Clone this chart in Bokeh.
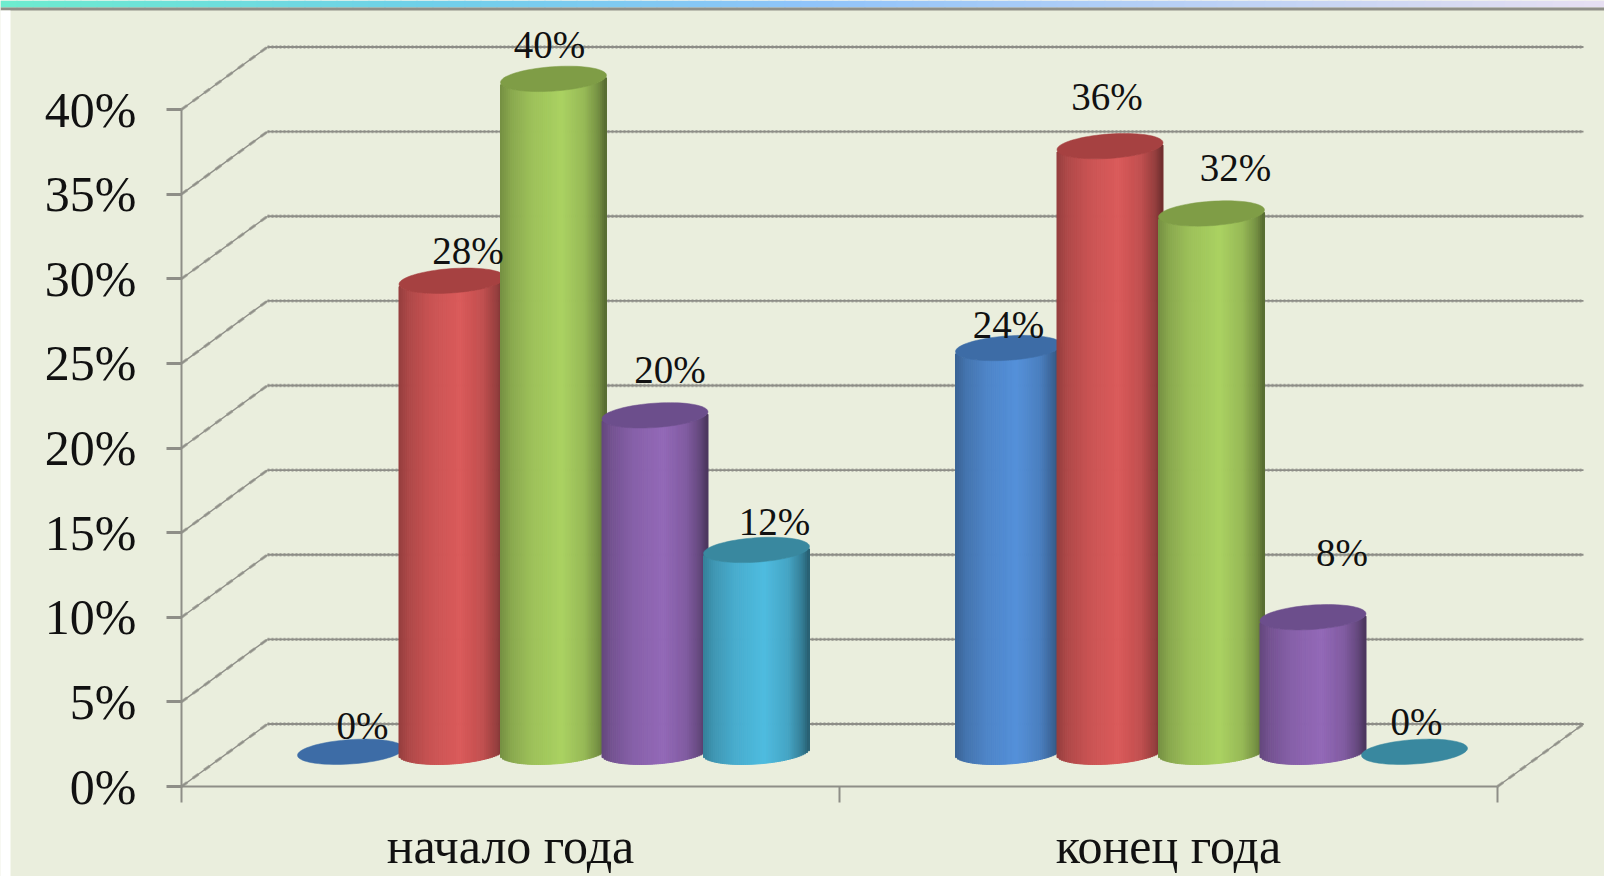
import numpy as np
from bokeh.core.properties import value
from bokeh.embed import file_html
from bokeh.models import BoxAnnotation, ColumnDataSource, FixedTicker
from bokeh.plotting import figure
from bokeh.resources import INLINE

# ---- data ----
categories = ["начало года", "конец года"]
series_blue = [0, 24]
series_red = [28, 36]
series_green = [40, 32]
series_purple = [20, 8]
series_teal = [12, 0]
y_ticks = [0, 5, 10, 15, 20, 25, 30, 35, 40]
# hand-placed data labels in the original: nudge from the bar centre top, in pixels
nudge_x = [[12, 16, -4, 15, 18], [0, -3, 24, 29, 2]]
nudge_y = [[29, 30, 33, 46, 29], [23, 48, 45, 66, 33]]

# ---- style ----
BG = "#EAEEDD"
GRID = "#8E8E87"
FONT = "Liberation Serif"
body_colors = ["#5591DA", "#DB5B5B", "#ABD262", "#9369B8", "#4FBCE0"]
top_colors = ["#3D6CA6", "#A64141", "#7F9D46", "#6C4E8C", "#39889F"]

W, H = 1604, 876
X0, Y0 = 181, 786   # where the axes cross on the page
PX_CAT = 658.0      # pixels per category
PX_PCT = 16.925     # pixels per percent
depth_x = 86 / PX_CAT
depth_y = 62.5 / PX_PCT
bar_step = 101.5 / PX_CAT
radius = 53 / PX_CAT
ell_h = 12.2 / PX_PCT
tilt = 3.5 / PX_PCT
lift = 2.05
bar_scale = 0.994

p = figure(width=W, height=H, output_backend="svg", toolbar_location=None,
           x_range=(-X0 / PX_CAT, (W - X0) / PX_CAT), y_range=((Y0 - H) / PX_PCT, Y0 / PX_PCT),
           min_border_left=0, min_border_right=0, min_border_top=0, min_border_bottom=0,
           background_fill_color=BG, border_fill_color=BG, outline_line_color=None)
p.grid.visible = False

# ---- axes ----
ya = p.yaxis[0]
ya.fixed_location = 0
ya.ticker = FixedTicker(ticks=y_ticks)
ya.major_label_overrides = {t: f"{t}%" for t in y_ticks}
ya.bounds = (0, 40)
ya.axis_line_color = GRID
ya.axis_line_width = 2
ya.major_tick_line_color = GRID
ya.major_tick_line_width = 3
ya.major_tick_out = 15
ya.major_tick_in = 0
ya.minor_tick_line_color = None
ya.major_label_standoff = 30
ya.major_label_text_font = FONT
ya.major_label_text_font_size = "50px"
ya.major_label_text_color = "#111111"

xa = p.xaxis[0]
xa.fixed_location = 0
cat_pos = [i + 0.5 for i in range(len(categories))]
xa.ticker = FixedTicker(ticks=cat_pos, minor_ticks=[0, 1, 2])
xa.major_label_overrides = {c: n for c, n in zip(cat_pos, categories)}
xa.bounds = (0, 2)
xa.axis_line_color = GRID
xa.axis_line_width = 2
xa.major_tick_line_color = None
xa.minor_tick_line_color = GRID
xa.minor_tick_line_width = 2
xa.minor_tick_out = 16
xa.minor_tick_in = 0
xa.major_label_standoff = 15
xa.major_label_text_font = FONT
xa.major_label_text_font_size = "50px"
xa.major_label_text_color = "#111111"

# ---- 3D walls ----
ty = np.array(y_ticks, dtype=float)
gx0, gx1 = np.full(len(ty), depth_x), np.full(len(ty), 2 + depth_x)
p.segment(x0=gx0, x1=gx1, y0=ty + depth_y, y1=ty + depth_y, line_color=GRID, line_width=1.8)
p.segment(x0=gx0, x1=gx1, y0=ty + depth_y, y1=ty + depth_y, line_color=GRID, line_width=3.4,
          line_alpha=0.65, line_dash="2 2")
p.segment(x0=np.zeros(len(ty)), x1=np.full(len(ty), depth_x), y0=ty, y1=ty + depth_y,
          line_color=GRID, line_width=1.4)
p.segment(x0=np.zeros(len(ty)), x1=np.full(len(ty), depth_x), y0=ty, y1=ty + depth_y,
          line_color=GRID, line_width=3, line_alpha=0.7, line_dash="7 7")
p.segment(x0=[2], x1=[2 + depth_x], y0=[0], y1=[depth_y], line_color=GRID, line_width=1.4)
p.segment(x0=[2], x1=[2 + depth_x], y0=[0], y1=[depth_y], line_color=GRID, line_width=3,
          line_alpha=0.7, line_dash="7 7")


def shade(hex_color, t):
    rgb = np.array([int(hex_color[i:i + 2], 16) for i in (1, 3, 5)], dtype=float)
    f = np.interp(t, [0, 0.1, 0.3, 0.58, 0.8, 0.93, 1.0], [0.68, 0.80, 0.92, 1.0, 0.88, 0.68, 0.5])
    return "#%02x%02x%02x" % tuple(np.clip(rgb * f, 0, 255).astype(int))


# ---- cylinders ----
series = [series_blue, series_red, series_green, series_purple, series_teal]
N = 52
edges = np.linspace(-1, 1, N + 1)
mids = (edges[:-1] + edges[1:]) / 2
front = -ell_h * np.sqrt(1 - mids ** 2) + tilt * mids
colors_by_series = [[shade(c, (m + 1) / 2) for m in mids] for c in body_colors]

lab_x, lab_y, lab_t, lab_dx, lab_dy = [], [], [], [], []
for g in range(len(categories)):
    cx0 = g + 0.5 + depth_x / 2
    for s, vals in enumerate(series):
        v = vals[g]
        cx = cx0 + (s - 2) * bar_step
        vh = v * bar_scale + lift
        if v > 0:
            src = ColumnDataSource(dict(
                left=cx + edges[:-1] * radius,
                right=cx + edges[1:] * radius,
                top=vh + front,
                bottom=lift + front,
                c=colors_by_series[s],
            ))
            p.quad(left="left", right="right", top="top", bottom="bottom", source=src,
                   fill_color="c", line_color="c", line_width=1)
        th = np.linspace(0, 2 * np.pi, 80)
        p.patch(cx + radius * np.cos(th),
                vh + ell_h * np.sin(th) + tilt * np.cos(th),
                fill_color=top_colors[s], line_color=top_colors[s], line_width=0.5)
        lab_x.append(cx)
        lab_y.append(v + 1.92)
        lab_t.append(f"{v}%")
        lab_dx.append(nudge_x[g][s])
        lab_dy.append(-nudge_y[g][s])

p.text(x=lab_x, y=lab_y, text=lab_t, x_offset=lab_dx, y_offset=lab_dy,
       text_font=value(FONT), text_font_size="39px", text_color="#111111",
       text_align="center", text_baseline="middle")

# ---- slide decoration: banner and white strip ----
stops_x = [0, 420, 800, 1604]
stops_c = np.array([[0x6E, 0xEC, 0xCF], [0x70, 0xD0, 0xEA], [0x90, 0xC4, 0xFA], [0xE8, 0xE0, 0xF2]], dtype=float)
step = 16
U = dict(left_units="canvas", right_units="canvas", top_units="canvas", bottom_units="canvas")
for x0 in range(0, W, step):
    c = [np.interp(x0, stops_x, stops_c[:, i]) for i in range(3)]
    col = "#%02x%02x%02x" % tuple(int(a) for a in c)
    p.add_layout(BoxAnnotation(left=x0, right=x0 + step + 1, top=0, bottom=7, **U,
                               fill_color=col, fill_alpha=1, line_alpha=0))
p.add_layout(BoxAnnotation(left=0, right=W, top=7, bottom=10, **U,
                           fill_color="#8F8F88", fill_alpha=1, line_alpha=0))
p.add_layout(BoxAnnotation(left=0, right=10, top=10, bottom=H, **U,
                           fill_color="#FFFFFF", fill_alpha=1, line_alpha=0))

open("out.html", "w").write(file_html(p, INLINE))
